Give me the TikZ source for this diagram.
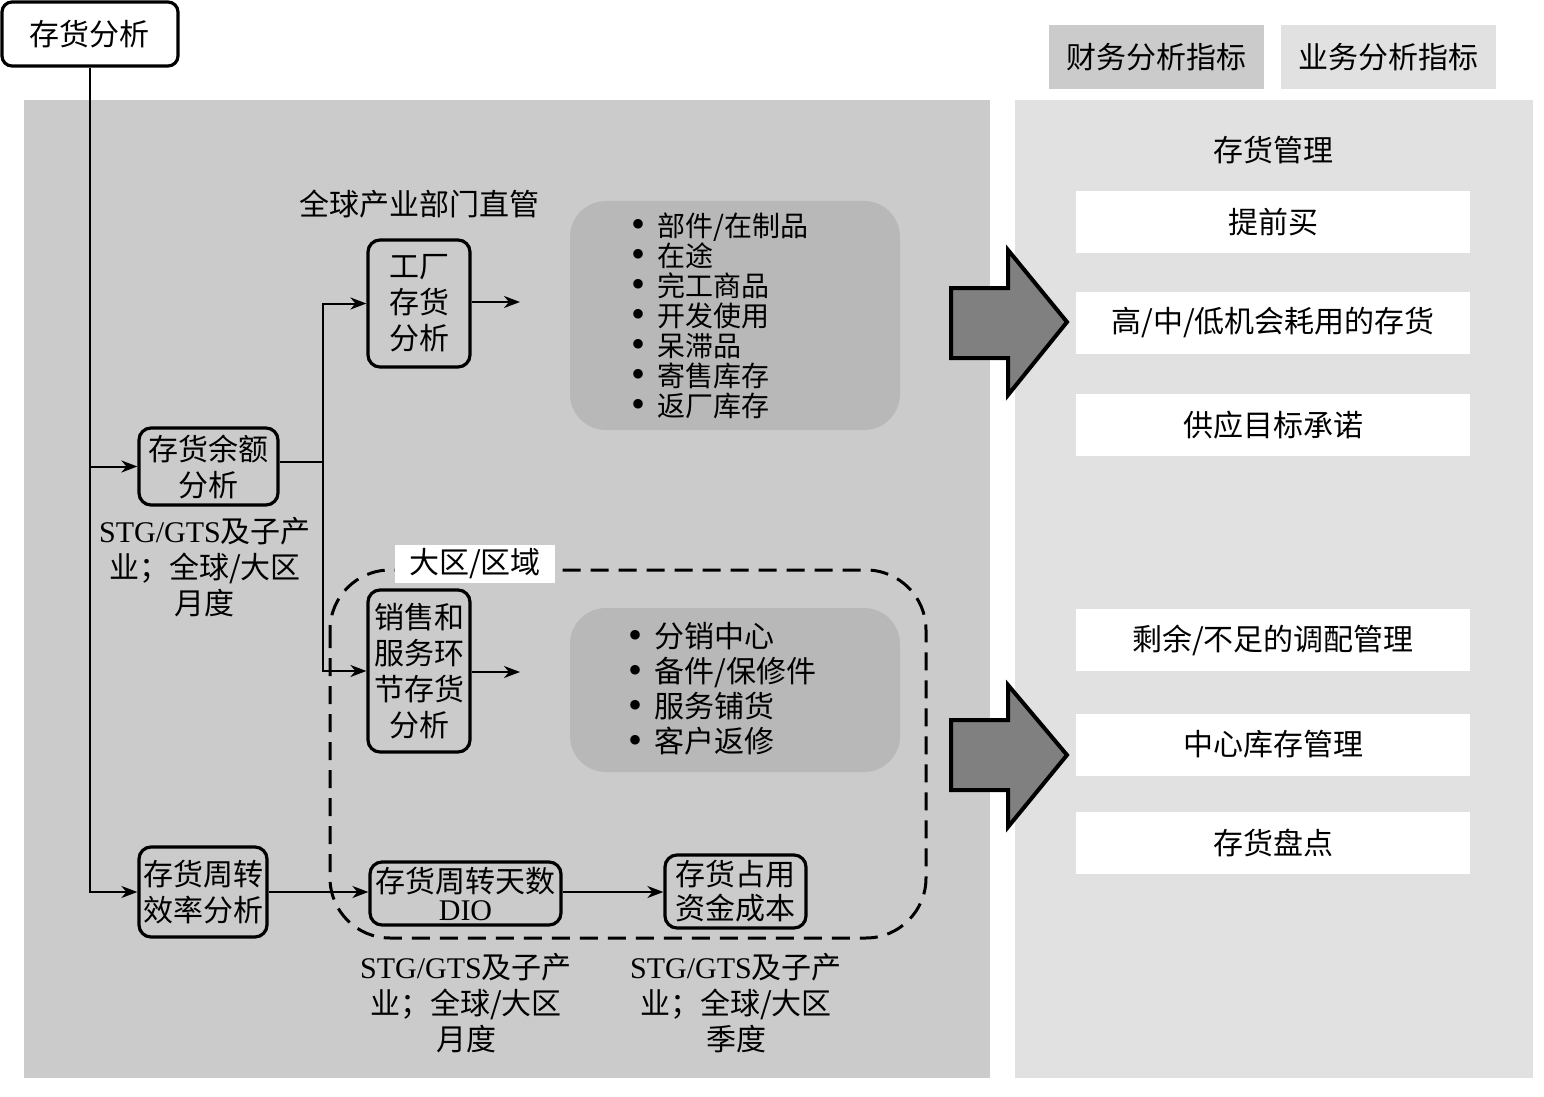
\documentclass[tikz,border=0pt]{standalone}
\usepackage{fontspec}
\setmainfont{Noto Sans CJK SC}
\newfontfamily\lat{Liberation Serif}
\usetikzlibrary{arrows.meta}
\definecolor{panelL}{HTML}{CBCBCB}
\definecolor{panelR}{HTML}{E1E1E1}
\definecolor{listbg}{HTML}{B8B8B8}
\definecolor{bigarrow}{HTML}{808080}
\newcommand{\bul}{\makebox[13pt][l]{\smash{\raisebox{-0.5pt}{\fontsize{20}{15}\lat\textbullet}}}}
\tikzset{
  box/.style={draw=black, line width=1.6pt, rounded corners=6pt, inner sep=0pt, align=center,
    font=\fontsize{15}{18}\selectfont},
  wbox/.style={fill=white, inner sep=0pt, minimum width=197pt, minimum height=31pt,
    font=\fontsize{15}{18}\selectfont},
  txt/.style={inner sep=0pt, align=center, font=\fontsize{15}{18}\selectfont},
  conn/.style={line width=1pt, -{Stealth[length=8pt,width=6pt,inset=2.5pt]}},
  line/.style={line width=1pt},
  bigarr/.style={fill=bigarrow, draw=black, line width=2pt, line join=miter},
}
\begin{document}
\begin{tikzpicture}[x=0.5pt,y=-0.5pt]
\useasboundingbox (0,0) rectangle (1544,1097);
% panels
\fill[panelL] (24,100) rectangle (990,1078);
\fill[panelR] (1015,100) rectangle (1533,1078);
% legend
\node[fill=panelL, inner sep=0pt, minimum width=107.5pt, minimum height=32pt, font=\fontsize{15}{18}\selectfont] (legF) at (1156.5,57) {财务分析指标};
\node[fill=panelR, inner sep=0pt, minimum width=107.5pt, minimum height=32pt, font=\fontsize{15}{18}\selectfont] (legB) at (1388.5,57) {业务分析指标};
% right column
\node[txt] (mgmt) at (1273,150) {存货管理};
\node[wbox] (r1) at (1273,222) {提前买};
\node[wbox] (r2) at (1273,323) {高/中/低机会耗用的存货};
\node[wbox] (r3) at (1273,425) {供应目标承诺};
\node[wbox] (r4) at (1273,640) {剩余/不足的调配管理};
\node[wbox] (r5) at (1273,744.5) {中心库存管理};
\node[wbox] (r6) at (1273,843) {存货盘点};
% big arrows
\draw[bigarr] (951,288) -- (1008,288) -- (1008,250) -- (1067,322) -- (1008,395) -- (1008,358) -- (951,358) -- cycle;
\draw[bigarr] (951,720) -- (1008,720) -- (1008,685) -- (1067,755) -- (1008,827) -- (1008,790) -- (951,790) -- cycle;
% list boxes
\fill[listbg, rounded corners=18pt] (570,201) rectangle (900,430);
\fill[listbg, rounded corners=18pt] (570,608) rectangle (900,772);
\node[inner sep=0pt, align=left, anchor=west, font=\fontsize{14}{15}\selectfont] (list1) at (631,316)
  {\bul 部件/在制品\\\bul 在途\\\bul 完工商品\\\bul 开发使用\\\bul 呆滞品\\\bul 寄售库存\\\bul 返厂库存};
\node[inner sep=0pt, align=left, anchor=west, font=\fontsize{15}{17.5}\selectfont] (list2) at (628,689)
  {\bul 分销中心\\\bul 备件/保修件\\\bul 服务铺货\\\bul 客户返修};
% dashed region
\draw[line width=1.5pt, dash pattern=on 9pt off 5pt, rounded corners=30pt] (330,570) rectangle (926,938);
\node[fill=white, inner sep=0pt, minimum width=80pt, minimum height=19pt, font=\fontsize{15}{18}\selectfont] (region) at (475,564) {大区/区域};
% heading
\node[txt] (global) at (419,204) {全球产业部门直管};
% boxes
\node[box, minimum width=88pt, minimum height=32pt, rounded corners=5pt, fill=white] (top) at (90,34) {存货分析};
\node[box, minimum width=69.5pt, minimum height=38.5pt] (yue) at (208.5,466.5) {存货余额\\分析};
\node[box, minimum width=51pt, minimum height=63.5pt] (gc) at (419,303.5) {工厂\\存货\\分析};
\node[box, minimum width=51pt, minimum height=81pt] (xs) at (419,671) {销售和\\服务环\\节存货\\分析};
\node[box, minimum width=64pt, minimum height=45pt] (zz) at (203,892) {存货周转\\效率分析};
\node[box, minimum width=95.5pt, minimum height=31.5pt, font=\fontsize{15}{14}\selectfont] (dio) at (465.5,893.5) {存货周转天数\\{\lat DIO}};
\node[box, minimum width=70.5pt, minimum height=36.5pt, font=\fontsize{15}{17}\selectfont] (cb) at (735.5,891.5) {存货占用\\资金成本};
% notes
\node[txt] (yueNote) at (205,567) {{\lat STG/GTS}及子产\\业；全球/大区\\月度};
\node[txt] (dioNote) at (466,1003) {{\lat STG/GTS}及子产\\业；全球/大区\\月度};
\node[txt] (cbNote) at (736,1003) {{\lat STG/GTS}及子产\\业；全球/大区\\季度};
% connectors
\coordinate (split) at (323,462);
\coordinate (gcEnd) at (520,302);
\coordinate (xsEnd) at (520,672);
\draw[conn] (top.south) |- (yue.west);
\draw[conn] (top.south) |- (zz.west);
\draw[line] (yue.east |- split) -- (split);
\draw[conn] (split) |- (gc.west);
\draw[conn] (split) |- (xs.west);
\draw[conn] (gc.east |- gcEnd) -- (gcEnd);
\draw[conn] (xs.east |- xsEnd) -- (xsEnd);
\draw[conn] (zz.east) -- (dio.west |- zz.east);
\draw[conn] (dio.east |- zz.east) -- (cb.west |- zz.east);
\end{tikzpicture}
\end{document}
